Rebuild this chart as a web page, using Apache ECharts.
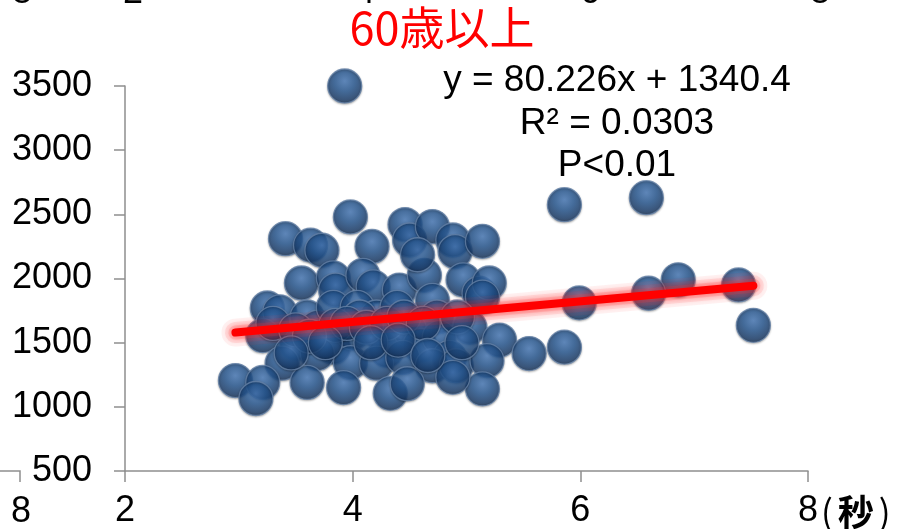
<!DOCTYPE html>
<html>
<head>
<meta charset="utf-8">
<script src="https://cdn.jsdelivr.net/npm/echarts@6/dist/echarts.min.js"></script>
<style>html,body{margin:0;padding:0;background:#fff;}#c{width:908px;height:529px;}</style>
</head>
<body>
<div id="c"></div>
<script>
// ---- data ----
var xValues = [3.93,3.98,3.41,3.63,3.73,4.17,4.46,4.50,4.70,4.88,4.90,5.14,
  3.55,3.83,3.85,4.09,4.18,4.41,4.63,4.57,4.97,5.11,5.20,
  3.25,3.36,3.60,3.69,3.83,4.04,4.21,4.39,4.70,4.74,5.03,5.14,
  3.21,3.51,3.83,4.00,4.21,4.30,4.50,4.59,4.76,4.85,5.29,5.55,
  3.38,3.69,3.98,4.21,4.44,4.70,4.91,5.18,
  2.97,3.21,3.15,3.60,3.92,4.33,4.48,5.14,4.88,
  5.86,6.58,6.86,7.39,7.52,5.99,6.60,5.86,4.06,3.85,
  3.30,3.50,3.62,3.95,4.12,4.30,4.45,4.62,4.92,4.96,3.76,4.16,4.40,4.66,3.46];
var yValues = [3500,2480,2310,2260,2220,2250,2420,2300,2405,2300,2210,2290,
  1965,2005,1910,2025,1935,1910,2025,2185,1990,1885,1965,
  1770,1740,1700,1620,1775,1775,1700,1775,1830,1700,1620,1855,
  1555,1495,1465,1575,1600,1440,1600,1480,1540,1385,1520,1415,
  1340,1415,1345,1340,1385,1320,1320,1360,
  1205,1190,1065,1190,1150,1105,1180,1140,1230,
  2575,2630,1990,1950,1635,1810,1885,1465,1700,1635,
  1650,1600,1550,1650,1620,1650,1700,1650,1700,1500,1500,1500,1520,1400,1420];
var trendSlope = 80.226, trendIntercept = 1340.4;
var titleText = '60歳以上';
var eqLines = ['y = 80.226x + 1340.4', 'R² = 0.0303', 'P<0.01'];
var xTicks = {min: 2, max: 8, interval: 2};
var yTicks = {min: 500, max: 3500, interval: 500};
var xUnit = ['(', '秒', ')'];

var points = xValues.map(function (x, i) { return [x, yValues[i]]; });
var xMin = Math.min.apply(null, xValues), xMax = Math.max.apply(null, xValues);
var trend = [[xMin, trendSlope * xMin + trendIntercept], [xMax, trendSlope * xMax + trendIntercept]];

var chart = echarts.init(document.getElementById('c'), null, {renderer: 'canvas'});
var axisColor = '#8e8e8e';
var latin = '"Liberation Sans", Arial, sans-serif';
var cjk = '"Noto Sans CJK JP", sans-serif';

function haloLayer(width, alpha, z) {
  return {
    type: 'line', data: trend, symbol: 'none', z: z, silent: true,
    lineStyle: {color: 'rgba(255,60,60,' + alpha + ')', width: width, cap: 'round',
      shadowBlur: 6, shadowColor: 'rgba(255,60,60,' + alpha + ')'}
  };
}

var option = {
  backgroundColor: '#ffffff',
  animation: false,
  title: {
    text: titleText, left: 437, top: 0, textAlign: 'center',
    textStyle: {color: '#ff0000', fontSize: 45, fontWeight: 'normal', fontFamily: cjk}
  },
  grid: {left: 125, right: 100, top: 86, bottom: 58, containLabel: false},
  xAxis: {
    type: 'value', min: xTicks.min, max: xTicks.max, interval: xTicks.interval,
    splitLine: {show: false},
    axisLine: {show: true, onZero: false, lineStyle: {color: axisColor, width: 1.5}},
    axisTick: {show: true, length: 11, inside: false, lineStyle: {color: axisColor, width: 1.5}},
    axisLabel: {color: '#000', fontSize: 36, fontFamily: latin, margin: 22,
      formatter: function (v) { return String(v); }}
  },
  yAxis: {
    type: 'value', min: yTicks.min, max: yTicks.max, interval: yTicks.interval,
    splitLine: {show: false},
    axisLine: {show: true, onZero: false, lineStyle: {color: axisColor, width: 1.5}},
    axisTick: {show: true, length: 11, inside: false, lineStyle: {color: axisColor, width: 1.5}},
    axisLabel: {color: '#000', fontSize: 36, fontFamily: latin, margin: 33,
      formatter: function (v) { return String(v); }}
  },
  series: [
    {
      type: 'scatter', data: points, symbol: 'circle', symbolSize: 34, z: 2,
      itemStyle: {
        color: {
          type: 'radial', x: 0.5, y: 0.36, r: 0.64,
          colorStops: [
            {offset: 0, color: '#4577b6'},
            {offset: 0.45, color: '#24558f'},
            {offset: 0.82, color: '#183b69'},
            {offset: 1, color: '#11294a'}
          ]
        },
        borderColor: '#6582a8', borderWidth: 1.3,
        shadowBlur: 2, shadowColor: 'rgba(0,0,0,0.3)', shadowOffsetY: 1
      },
      emphasis: {disabled: true}
    },
    haloLayer(28, 0.07, 3),
    haloLayer(21, 0.10, 4),
    haloLayer(14, 0.16, 4),
    {
      type: 'line', data: trend, symbol: 'none', z: 5,
      lineStyle: {color: '#ff0000', width: 8, cap: 'round',
        shadowBlur: 8, shadowColor: 'rgba(255,20,20,0.6)'}
    }
  ]
};
chart.setOption(option);

var p8 = chart.convertToPixel({gridIndex: 0}, [xTicks.max, yTicks.min]);
var graphics = [];
eqLines.forEach(function (t, i) {
  graphics.push({
    type: 'text', x: 617, y: [81, 124, 166][i],
    style: {text: t, fill: '#000', fontSize: 37, fontFamily: latin, align: 'center', verticalAlign: 'middle'}
  });
});
// unit after the last x tick label
graphics.push({
  type: 'text', x: p8[0] + 8, y: p8[1] + 41,
  style: {
    text: '{p|' + xUnit[0] + '}{k|' + xUnit[1] + '}{p|' + xUnit[2] + '}', verticalAlign: 'middle', align: 'left',
    rich: {
      p: {fontSize: 35, fontFamily: cjk, fill: '#000', padding: [0, 5, 0, 5]},
      k: {fontSize: 36, fontFamily: cjk, fontWeight: 'bold', fill: '#000'}
    }
  }
});
// fragments of neighbouring charts cut by the frame
[[22, '8'], [133, '2'], [365, '4'], [590, '6'], [820, '8']].forEach(function (f) {
  graphics.push({type: 'text', x: f[0], y: -7,
    style: {text: f[1], fill: '#000', fontSize: 36, fontFamily: latin, align: 'center', verticalAlign: 'middle'}});
});
graphics.push({type: 'text', x: 21, y: p8[1] + 41,
  style: {text: '8', fill: '#000', fontSize: 36, fontFamily: latin, align: 'center', verticalAlign: 'middle'}});
graphics.push({type: 'polyline', shape: {points: [[0, p8[1]], [20, p8[1]], [20, p8[1] + 11]]},
  style: {stroke: axisColor, lineWidth: 1.5, fill: null}});
chart.setOption({graphic: graphics});
</script>
</body>
</html>
